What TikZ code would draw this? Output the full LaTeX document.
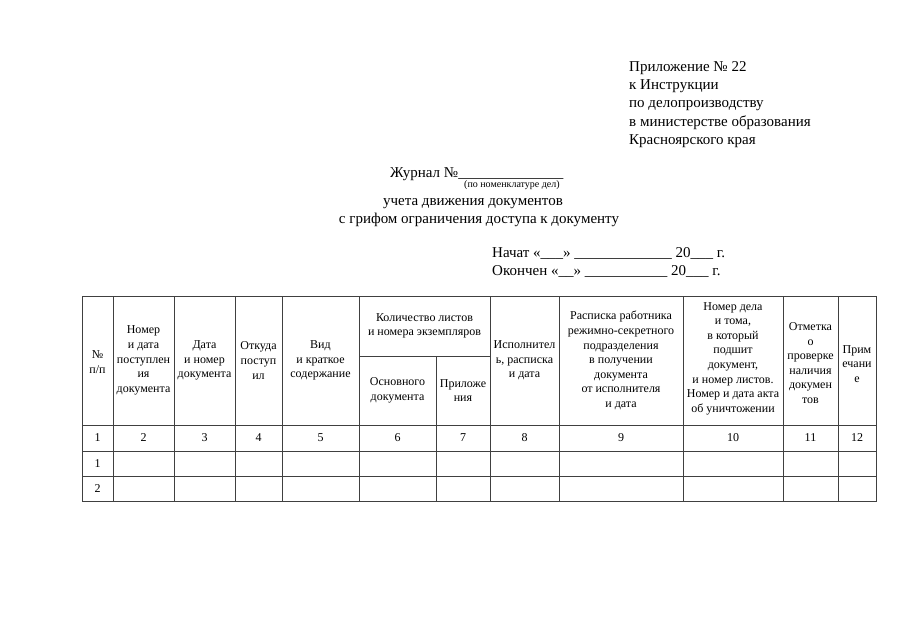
\documentclass[tikz,border=0pt]{standalone}
\usepackage{fontspec}
\setmainfont{Liberation Serif}
\begin{document}
\begin{tikzpicture}[x=1pt,y=1pt,yscale=-1,xscale=1,
  grid/.style={draw=black!75,line width=0.8pt},
  big/.style={inner sep=0pt,font=\fontsize{15}{17.7}\selectfont},
  head/.style={inner sep=0pt,align=center,font=\fontsize{12}{14.6}\selectfont},
  tiny/.style={inner sep=0pt,font=\fontsize{10}{11}\selectfont}]
%set diagram left start at 0, and has height of 640
\useasboundingbox (0,0) rectangle (911,640);

% Text Node
\draw (629,71.5) node [big,anchor=base west] (app1) {Приложение № 22};
\draw (629,89.7) node [big,anchor=base west] (app2) {к Инструкции};
\draw (629,107.9) node [big,anchor=base west] (app3) {по делопроизводству};
\draw (629,126.1) node [big,anchor=base west] (app4) {в министерстве образования};
\draw (629,144.3) node [big,anchor=base west] (app5) {Красноярского края};

% Text Node
\draw (390,177.5) node [big,anchor=base west] (jrn) {Журнал №\_\_\_\_\_\_\_\_\_\_\_\_\_\_};
\draw (464,187.5) node [tiny,anchor=base west] (nomen) {(по номенклатуре дел)};
\draw (473,205) node [big,anchor=base] (title1) {учета движения документов};
\draw (479,223) node [big,anchor=base] (title2) {с грифом ограничения доступа к документу};

% Text Node
\draw (492,257) node [big,anchor=base west] (start) {Начат «\_\_\_» \_\_\_\_\_\_\_\_\_\_\_\_\_ 20\_\_\_ г.};
\draw (492,275) node [big,anchor=base west] (stop) {Окончен «\_\_» \_\_\_\_\_\_\_\_\_\_\_ 20\_\_\_ г.};

%Shape: Rectangle
\draw [grid] (82,296) rectangle (876,501);
%Straight Lines
\draw [grid] (359,356) -- (490,356);
\draw [grid] (82,425) -- (876,425);
\draw [grid] (82,451) -- (876,451);
\draw [grid] (82,476) -- (876,476);
%Straight Lines
\draw [grid] (113,296) -- (113,501);
\draw [grid] (174,296) -- (174,501);
\draw [grid] (235,296) -- (235,501);
\draw [grid] (282,296) -- (282,501);
\draw [grid] (359,296) -- (359,501);
\draw [grid] (436,356) -- (436,501);
\draw [grid] (490,296) -- (490,501);
\draw [grid] (559,296) -- (559,501);
\draw [grid] (683,296) -- (683,501);
\draw [grid] (783,296) -- (783,501);
\draw [grid] (838,296) -- (838,501);

% Text Node
\draw (97.5,362) node [head] (h1) {№\\п/п};
\draw (143.5,360.5) node [head] (h2) {Номер\\и дата\\поступлен\\ия\\документа};
\draw (204.5,360.5) node [head] (h3) {Дата\\и номер\\документа};
\draw (258.5,360.5) node [head] (h4) {Откуда\\поступ\\ил};
\draw (320.5,360.5) node [head] (h5) {Вид\\и краткое\\содержание};
\draw (424.5,326) node [head] (h67) {Количество листов\\и номера экземпляров};
\draw (397.5,390.5) node [head] (h6) {Основного\\документа};
\draw (463,390.5) node [head] (h7) {Приложе\\ния};
\draw (524.5,360.5) node [head] (h8) {Исполнител\\ь, расписка\\и дата};
\draw (621,360.5) node [head] (h9) {Расписка работника\\режимно-секретного\\подразделения\\в получении\\документа\\от исполнителя\\и дата};
\draw (733,358.5) node [head] (h10) {Номер дела\\и тома,\\в который\\подшит\\документ,\\и номер листов.\\Номер и дата акта\\об уничтожении};
\draw (810.5,363) node [head] (h11) {Отметка\\о\\проверке\\наличия\\докумен\\тов};
\draw (857,364) node [head] (h12) {Прим\\ечани\\е};

% Text Node
\draw (97.5,438) node [head] (n1) {1};
\draw (143.5,438) node [head] (n2) {2};
\draw (204.5,438) node [head] (n3) {3};
\draw (258.5,438) node [head] (n4) {4};
\draw (320.5,438) node [head] (n5) {5};
\draw (397.5,438) node [head] (n6) {6};
\draw (463,438) node [head] (n7) {7};
\draw (524.5,438) node [head] (n8) {8};
\draw (621,438) node [head] (n9) {9};
\draw (733,438) node [head] (n10) {10};
\draw (810.5,438) node [head] (n11) {11};
\draw (857,438) node [head] (n12) {12};

% Text Node
\draw (97.5,463.5) node [head] (r1) {1};
\draw (97.5,488.5) node [head] (r2) {2};

\end{tikzpicture}
\end{document}
